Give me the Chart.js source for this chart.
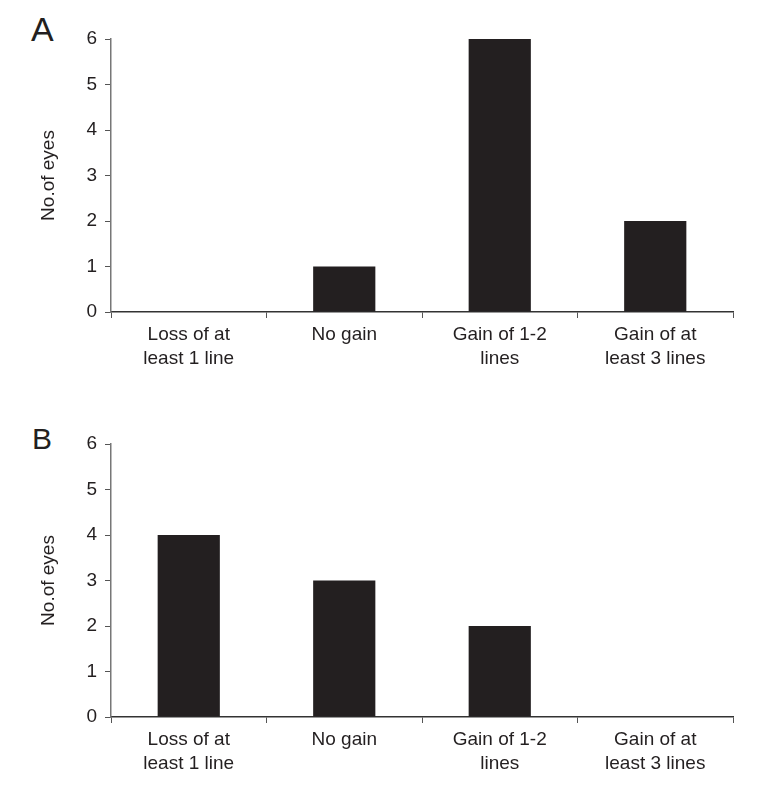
<!DOCTYPE html>
<html>
<head>
<meta charset="utf-8">
<script src="https://cdn.jsdelivr.net/npm/chart.js@4.4.1/dist/chart.umd.min.js"></script>
<style>
  html, body { margin: 0; padding: 0; background: #fff; width: 762px; height: 790px; overflow: hidden; }
  .wrap { position: absolute; left: 0; width: 762px; height: 385px; }
  .letter { position: absolute; font-family: "Liberation Sans", Arial, sans-serif; color: #231f20; line-height: 1; }
</style>
</head>
<body>
<div class="letter" style="left:31px; top:12px; font-size:34px;">A</div>
<div class="letter" style="left:32px; top:424px; font-size:30px;">B</div>
<div class="wrap" style="top:0px;"><canvas id="chartA" width="762" height="385"></canvas></div>
<div class="wrap" style="top:405px;"><canvas id="chartB" width="762" height="385"></canvas></div>
<script>
const categories = [
  ["Loss of at", "least 1 line"],
  ["No gain"],
  ["Gain of 1-2", "lines"],
  ["Gain of at", "least 3 lines"]
];
const valuesA = [0, 1, 6, 2];
const valuesB = [4, 3, 2, 0];
const yTicks = [0, 1, 2, 3, 4, 5, 6];
const yTitle = "No.of eyes";

const FONT = '"Liberation Sans", Arial, sans-serif';

function makeChart(id, values) {
  return new Chart(document.getElementById(id), {
    type: 'bar',
    data: {
      labels: categories,
      datasets: [{
        data: values,
        backgroundColor: '#231f20',
        borderWidth: 0,
        barPercentage: 0.4,
        categoryPercentage: 1.0
      }]
    },
    options: {
      responsive: false,
      animation: false,
      devicePixelRatio: 1,
      layout: { padding: { top: 39, right: 29, left: 0, bottom: 0 } },
      plugins: { legend: { display: false }, tooltip: { enabled: false } },
      scales: {
        x: {
          offset: true,
          afterFit: (s) => { s.height = 73; },
          grid: { drawOnChartArea: false, drawTicks: true, tickLength: 6, color: '#555', offset: true },
          border: { display: true, color: '#333', width: 1.5 },
          ticks: { color: '#231f20', font: { family: FONT, size: 19, lineHeight: 1.25 }, padding: 5, maxRotation: 0, autoSkip: false }
        },
        y: {
          min: 0,
          max: 6,
          afterFit: (s) => { s.width = 111; },
          afterBuildTicks: (s) => { s.ticks = yTicks.map(v => ({ value: v })); },
          grid: { drawOnChartArea: false, drawTicks: true, tickLength: 6, color: '#555' },
          border: { display: true, color: '#777', width: 1.5 },
          ticks: { color: '#231f20', font: { family: FONT, size: 19 }, padding: 8 },
          title: { display: true, text: yTitle, color: '#231f20', font: { family: FONT, size: 19, lineHeight: 1.2 }, padding: { top: 37, bottom: 0 } }
        }
      }
    }
  });
}

makeChart('chartA', valuesA);
makeChart('chartB', valuesB);
</script>
</body>
</html>
